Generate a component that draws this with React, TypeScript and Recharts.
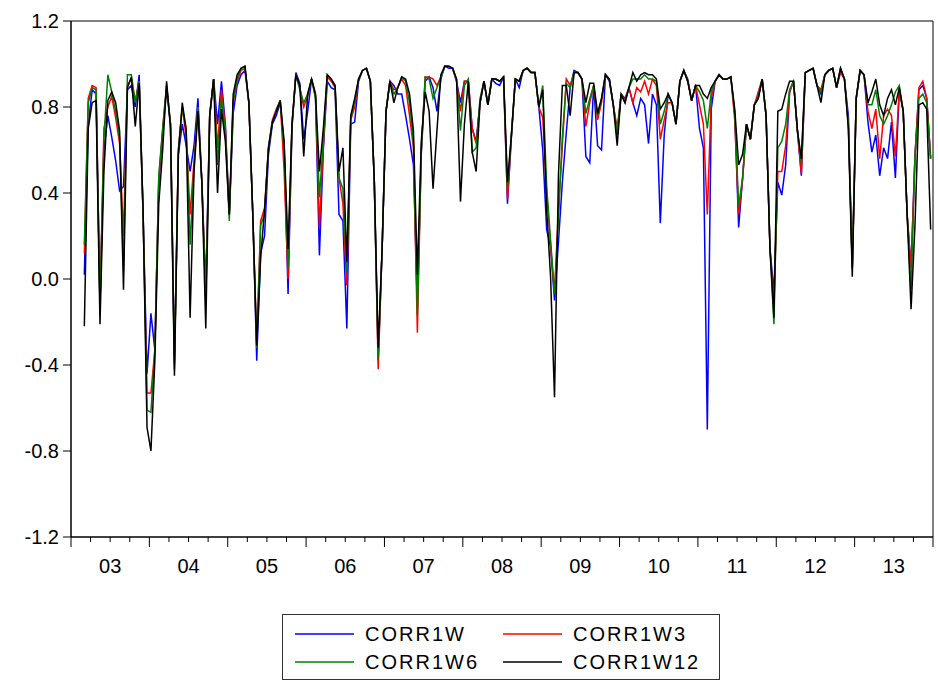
import React from 'react';
import { LineChart, Line, XAxis, YAxis, ReferenceArea } from 'recharts';

// weekly-ish sampling (every 0.05 yr from Mar 2003)
const START = 2003.17;
const STEP = 0.05;

const yearLabels = ['03', '04', '05', '06', '07', '08', '09', '10', '11', '12', '13'];
const yTicks = [-1.2, -0.8, -0.4, 0.0, 0.4, 0.8, 1.2];

const CORR1W = [
  0.02, 0.72, 0.88, 0.86, -0.10, 0.60, 0.76, 0.66, 0.55, 0.41, 0.43, 0.88, 0.90, 0.80, 0.95, 0.30, -0.44, -0.16, -0.33, 0.45,
  0.68, 0.88, 0.72, -0.38, 0.58, 0.72, 0.62, 0.50, 0.62, 0.84, 0.45, -0.04, 0.76, 0.93, 0.72, 0.92, 0.72, 0.30, 0.77, 0.90,
  0.95, 0.97, 0.82, 0.30, -0.38, 0.12, 0.20, 0.58, 0.72, 0.76, 0.82, 0.62, -0.07, 0.70, 0.96, 0.91, 0.65, 0.78, 0.93, 0.85,
  0.11, 0.60, 0.92, 0.89, 0.88, 0.30, 0.27, -0.23, 0.72, 0.73, 0.92, 0.97, 0.98, 0.92, 0.46, -0.38, 0.14, 0.78, 0.92, 0.90,
  0.86, 0.86, 0.76, 0.65, 0.53, -0.12, 0.58, 0.92, 0.94, 0.89, 0.78, 0.93, 0.99, 0.98, 0.98, 0.92, 0.82, 0.92, 0.92, 0.70,
  0.64, 0.82, 0.92, 0.81, 0.93, 0.91, 0.90, 0.94, 0.35, 0.66, 0.93, 0.89, 0.97, 0.98, 0.96, 0.96, 0.80, 0.60, 0.23, 0.15,
  -0.10, 0.17, 0.45, 0.68, 0.89, 0.97, 0.96, 0.93, 0.57, 0.54, 0.90, 0.62, 0.60, 0.95, 0.92, 0.81, 0.67, 0.86, 0.84, 0.89,
  0.82, 0.76, 0.84, 0.81, 0.63, 0.86, 0.81, 0.26, 0.67, 0.86, 0.82, 0.72, 0.92, 0.97, 0.93, 0.83, 0.90, 0.70, 0.61, -0.70,
  0.79, 0.92, 0.95, 0.93, 0.93, 0.94, 0.77, 0.24, 0.47, 0.72, 0.65, 0.81, 0.84, 0.93, 0.76, 0.14, -0.06, 0.45, 0.39, 0.53,
  0.87, 0.92, 0.69, 0.48, 0.96, 0.97, 0.98, 0.90, 0.86, 0.95, 0.97, 0.98, 0.89, 0.98, 0.93, 0.76, 0.05, 0.84, 0.97, 0.95,
  0.73, 0.59, 0.67, 0.48, 0.61, 0.56, 0.73, 0.47, 0.88, 0.78, 0.30, 0.05, 0.57, 0.88, 0.90, 0.84, 0.56,
];

const CORR1W3 = [
  0.12, 0.84, 0.90, 0.89, -0.12, 0.70, 0.80, 0.85, 0.75, 0.63, 0.20, 0.90, 0.93, 0.83, 0.92, 0.30, -0.53, -0.53, -0.33, 0.46,
  0.70, 0.90, 0.72, -0.40, 0.60, 0.80, 0.66, 0.30, 0.55, 0.80, 0.45, -0.08, 0.76, 0.93, 0.61, 0.88, 0.70, 0.30, 0.82, 0.92,
  0.97, 0.98, 0.82, 0.30, -0.30, 0.27, 0.33, 0.61, 0.74, 0.79, 0.83, 0.50, 0.00, 0.72, 0.95, 0.89, 0.80, 0.85, 0.93, 0.86,
  0.24, 0.62, 0.94, 0.92, 0.89, 0.47, 0.35, -0.03, 0.74, 0.80, 0.93, 0.97, 0.98, 0.92, 0.46, -0.42, 0.14, 0.78, 0.92, 0.88,
  0.89, 0.93, 0.90, 0.76, 0.61, -0.25, 0.60, 0.94, 0.94, 0.93, 0.90, 0.94, 0.99, 0.99, 0.98, 0.92, 0.78, 0.92, 0.92, 0.70,
  0.63, 0.82, 0.92, 0.81, 0.93, 0.93, 0.92, 0.94, 0.37, 0.67, 0.93, 0.92, 0.97, 0.98, 0.96, 0.96, 0.80, 0.75, 0.40, 0.16,
  -0.07, 0.32, 0.62, 0.93, 0.90, 0.96, 0.96, 0.93, 0.71, 0.82, 0.90, 0.74, 0.82, 0.95, 0.93, 0.81, 0.70, 0.86, 0.83, 0.89,
  0.82, 0.89, 0.87, 0.92, 0.86, 0.93, 0.90, 0.65, 0.74, 0.82, 0.82, 0.72, 0.92, 0.97, 0.92, 0.83, 0.90, 0.81, 0.72, 0.30,
  0.84, 0.92, 0.95, 0.93, 0.93, 0.94, 0.74, 0.30, 0.46, 0.72, 0.65, 0.81, 0.87, 0.93, 0.76, 0.14, -0.12, 0.50, 0.50, 0.62,
  0.87, 0.92, 0.69, 0.49, 0.96, 0.97, 0.98, 0.90, 0.88, 0.95, 0.97, 0.98, 0.89, 0.96, 0.93, 0.72, 0.05, 0.84, 0.97, 0.95,
  0.78, 0.70, 0.79, 0.56, 0.76, 0.79, 0.76, 0.57, 0.88, 0.78, 0.30, 0.05, 0.57, 0.89, 0.92, 0.84, 0.56,
];

const CORR1W6 = [
  0.16, 0.82, 0.89, 0.88, -0.14, 0.65, 0.95, 0.87, 0.78, 0.66, 0.04, 0.95, 0.95, 0.82, 0.92, 0.30, -0.61, -0.62, -0.33, 0.48,
  0.70, 0.90, 0.72, -0.42, 0.60, 0.80, 0.70, 0.16, 0.52, 0.80, 0.45, -0.10, 0.76, 0.93, 0.53, 0.84, 0.68, 0.27, 0.83, 0.93,
  0.98, 0.99, 0.82, 0.30, -0.32, 0.25, 0.30, 0.61, 0.73, 0.78, 0.83, 0.60, 0.05, 0.72, 0.95, 0.88, 0.82, 0.86, 0.93, 0.84,
  0.38, 0.64, 0.95, 0.93, 0.90, 0.47, 0.42, 0.03, 0.75, 0.82, 0.93, 0.97, 0.98, 0.92, 0.46, -0.37, 0.14, 0.78, 0.92, 0.86,
  0.89, 0.94, 0.92, 0.82, 0.64, -0.17, 0.60, 0.94, 0.93, 0.84, 0.89, 0.94, 0.99, 0.99, 0.98, 0.93, 0.69, 0.90, 0.93, 0.59,
  0.61, 0.84, 0.92, 0.81, 0.93, 0.93, 0.92, 0.94, 0.42, 0.67, 0.93, 0.92, 0.97, 0.98, 0.96, 0.96, 0.80, 0.90, 0.43, 0.18,
  -0.07, 0.28, 0.66, 0.91, 0.89, 0.96, 0.96, 0.93, 0.77, 0.84, 0.90, 0.76, 0.84, 0.95, 0.93, 0.81, 0.68, 0.86, 0.82, 0.89,
  0.93, 0.93, 0.93, 0.95, 0.93, 0.93, 0.92, 0.72, 0.78, 0.86, 0.82, 0.72, 0.92, 0.97, 0.92, 0.83, 0.90, 0.87, 0.83, 0.70,
  0.87, 0.92, 0.95, 0.93, 0.93, 0.94, 0.77, 0.34, 0.47, 0.72, 0.65, 0.81, 0.85, 0.93, 0.76, 0.14, -0.21, 0.61, 0.64, 0.72,
  0.88, 0.92, 0.69, 0.54, 0.96, 0.97, 0.98, 0.90, 0.87, 0.95, 0.97, 0.98, 0.89, 0.98, 0.93, 0.72, 0.05, 0.84, 0.97, 0.95,
  0.81, 0.81, 0.88, 0.76, 0.72, 0.76, 0.81, 0.87, 0.90, 0.78, 0.30, -0.05, 0.57, 0.84, 0.86, 0.82, 0.56,
];

const CORR1W12 = [
  -0.22, 0.70, 0.82, 0.83, -0.21, 0.50, 0.83, 0.87, 0.82, 0.69, -0.05, 0.89, 0.94, 0.71, 0.91, 0.32, -0.69, -0.80, -0.38, 0.35,
  0.60, 0.92, 0.70, -0.45, 0.58, 0.82, 0.69, -0.18, 0.50, 0.78, 0.45, -0.23, 0.76, 0.93, 0.40, 0.79, 0.64, 0.30, 0.86, 0.95,
  0.98, 0.99, 0.82, 0.30, -0.31, 0.10, 0.32, 0.61, 0.73, 0.78, 0.83, 0.64, 0.14, 0.72, 0.95, 0.90, 0.57, 0.86, 0.93, 0.86,
  0.50, 0.70, 0.95, 0.93, 0.90, 0.50, 0.61, 0.08, 0.76, 0.84, 0.93, 0.97, 0.98, 0.92, 0.46, -0.32, 0.14, 0.78, 0.92, 0.82,
  0.89, 0.94, 0.93, 0.86, 0.69, 0.02, 0.64, 0.87, 0.78, 0.42, 0.69, 0.95, 0.99, 0.99, 0.98, 0.93, 0.36, 0.72, 0.92, 0.59,
  0.50, 0.82, 0.92, 0.81, 0.93, 0.93, 0.92, 0.94, 0.45, 0.67, 0.93, 0.92, 0.97, 0.98, 0.96, 0.96, 0.80, 0.88, 0.32, 0.01,
  -0.55, 0.48, 0.90, 0.90, 0.76, 0.96, 0.96, 0.93, 0.82, 0.91, 0.91, 0.77, 0.84, 0.95, 0.93, 0.81, 0.62, 0.86, 0.82, 0.89,
  0.96, 0.92, 0.95, 0.96, 0.95, 0.95, 0.93, 0.79, 0.82, 0.86, 0.82, 0.72, 0.92, 0.97, 0.92, 0.83, 0.90, 0.90, 0.86, 0.84,
  0.89, 0.92, 0.95, 0.93, 0.93, 0.94, 0.79, 0.53, 0.58, 0.72, 0.65, 0.81, 0.84, 0.93, 0.76, 0.14, -0.18, 0.78, 0.79, 0.86,
  0.92, 0.92, 0.69, 0.56, 0.96, 0.97, 0.98, 0.90, 0.82, 0.95, 0.97, 0.98, 0.89, 0.98, 0.93, 0.70, 0.01, 0.84, 0.97, 0.95,
  0.82, 0.87, 0.93, 0.81, 0.76, 0.84, 0.88, 0.81, 0.89, 0.78, 0.30, -0.14, 0.25, 0.81, 0.82, 0.79, 0.23,
];

const seriesNames = ['CORR1W', 'CORR1W3', 'CORR1W6', 'CORR1W12'];
const seriesColors = ['#0000FF', '#FF0000', '#008000', '#000000'];

const data = CORR1W.map((v, i) => ({
  t: START + i * STEP,
  CORR1W: v,
  CORR1W3: CORR1W3[i],
  CORR1W6: CORR1W6[i],
  CORR1W12: CORR1W12[i],
}));

// quarterly ticks; years get the long mark, mid-year carries the label
const quarterTicks: number[] = [];
yearLabels.forEach((_, k) => {
  for (let q = 0; q < 4; q++) quarterTicks.push(2003 + k + q * 0.25);
});
quarterTicks.push(2003 + yearLabels.length);

const FONT = '"Liberation Sans", Arial, sans-serif';

const YearTick = (props: any) => {
  const { x, y, payload } = props;
  const v = payload.value;
  const frac = v - Math.floor(v + 1e-6);
  const isYear = Math.abs(frac) < 1e-6;
  const isMid = Math.abs(frac - 0.5) < 1e-6;
  const label = yearLabels[Math.floor(v + 1e-6) - 2003];
  return (
    <g>
      <line x1={x} y1={y} x2={x} y2={y + (isYear ? 10 : 5)} stroke="#000" strokeWidth={1} />
      {isMid && (
        <text x={x} y={y + 36} textAnchor="middle" fontSize={20} fontFamily={FONT} fill="#000">
          {label}
        </text>
      )}
    </g>
  );
};

const App: React.FC = () => {
  return (
    <div style={{ position: 'absolute', left: 0, top: 0, width: 938, height: 684, background: '#fff' }}>
      <LineChart width={938} height={684} data={data} margin={{ top: 21, right: 5, left: 0, bottom: 107 }}>
        <XAxis
          dataKey="t"
          type="number"
          domain={[2003, 2014]}
          ticks={quarterTicks}
          interval={0}
          tick={<YearTick />}
          tickLine={false}
          tickSize={0}
          tickMargin={0}
          height={40}
          axisLine={{ stroke: '#000' }}
          allowDataOverflow
        />
        <YAxis
          type="number"
          domain={[-1.2, 1.2]}
          ticks={yTicks}
          interval={0}
          width={71}
          tickSize={8}
          tickMargin={4}
          tickFormatter={(v: number) => v.toFixed(1)}
          tick={{ fill: '#000', fontSize: 20, fontFamily: FONT }}
          tickLine={{ stroke: '#000' }}
          axisLine={{ stroke: '#000' }}
          allowDataOverflow
        />
        <ReferenceArea x1={2003} x2={2014} y1={-1.2} y2={1.2} fill="none" stroke="#000" strokeWidth={1} />
        {seriesNames.map((name, k) => (
          <Line
            key={name}
            type="linear"
            dataKey={name}
            stroke={seriesColors[k]}
            strokeWidth={1.5}
            dot={false}
            isAnimationActive={false}
          />
        ))}
      </LineChart>
      <div
        style={{
          position: 'absolute',
          left: 282,
          top: 614,
          width: 436,
          height: 64,
          border: '1px solid #333',
          background: '#fff',
        }}
      >
        <svg width={436} height={64} style={{ display: 'block' }}>
          {seriesNames.map((name, k) => {
            const col = k % 2;
            const row = Math.floor(k / 2);
            const lx = 12 + col * 208;
            const ly = 19 + row * 28;
            return (
              <g key={name}>
                <line x1={lx} y1={ly} x2={lx + 59} y2={ly} stroke={seriesColors[k]} strokeWidth={1.5} />
                <text
                  x={lx + 70}
                  y={ly + 7}
                  fontSize={20}
                  fontFamily={FONT}
                  letterSpacing={2}
                  fill="#000"
                >
                  {name}
                </text>
              </g>
            );
          })}
        </svg>
      </div>
    </div>
  );
};

export default App;
